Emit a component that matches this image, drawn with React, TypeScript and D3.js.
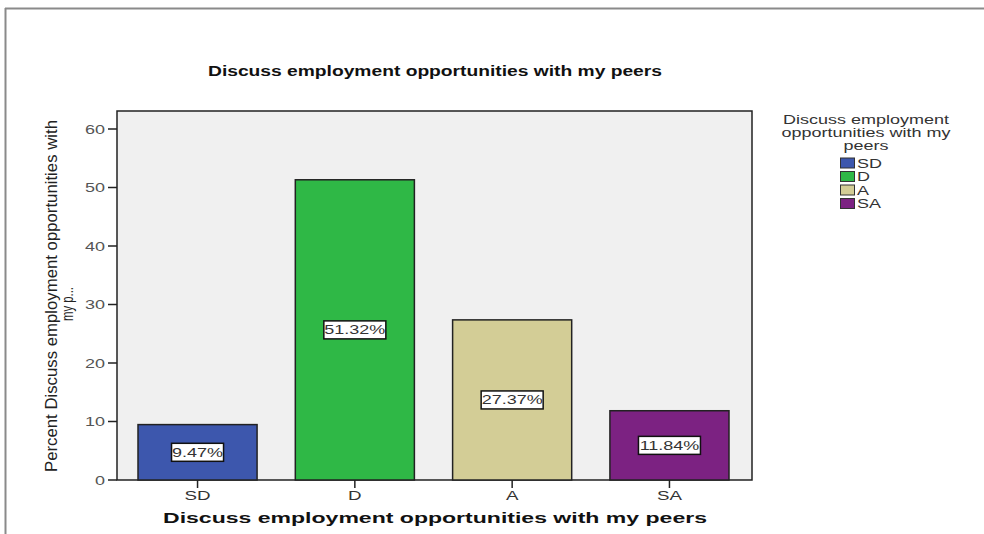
import React from "react";
import * as d3 from "d3";

const categories = ["SD", "D", "A", "SA"];
const percents = [9.47, 51.32, 27.37, 11.84];
const barColors = ["#3d57ad", "#2fb846", "#d3cd96", "#7c2282"];
const yTicks = [0, 10, 20, 30, 40, 50, 60];
const titleText = "Discuss employment opportunities with my peers";
const legendTitle = ["Discuss employment", "opportunities with my", "peers"];
const yTitle = ["Percent Discuss employment opportunities with", "my p..."];

const font = "Arial, 'Liberation Sans', sans-serif";

function SText(props: { x: number; y: number; sx?: number; anchor?: string; size: number; fill?: string; weight?: string; children: React.ReactNode }) {
  const { x, y, sx = 1.5, anchor = "start", size, fill = "#333", weight = "normal", children } = props;
  return (
    <g transform={`translate(${x},${y}) scale(${sx},1)`}>
      <text x={0} y={0} textAnchor={anchor as any} fontSize={size} fill={fill} fontWeight={weight}>{children}</text>
    </g>
  );
}

export default function App() {
  const W = 984, H = 534;
  const plot = { left: 117, right: 752, top: 111, bottom: 480 };
  const x = d3.scaleBand<string>().domain(categories).range([117, 750]).paddingInner(0.243).paddingOuter(0.1335);
  const y = d3.scaleLinear().domain([0, 60]).range([480, 129]);
  return (
    <svg width={W} height={H} style={{ position: "absolute", left: 0, top: 0, background: "#fff" }} fontFamily={font}>
      <rect x={0} y={0} width={W} height={H} fill="#fff" />
      <line x1={5} x2={W} y1={8.5} y2={8.5} stroke="#8a8a8a" strokeWidth={2} />
      <line x1={5.5} x2={5.5} y1={8} y2={H} stroke="#8a8a8a" strokeWidth={2} />
      <text x={435} y={76} textAnchor="middle" fontSize={14} fontWeight="bold" fill="#111" textLength={454} lengthAdjust="spacingAndGlyphs">{titleText}</text>
      <rect x={plot.left} y={plot.top} width={plot.right - plot.left} height={plot.bottom - plot.top} fill="#f0f0f0" stroke="#222" strokeWidth={1.5} />
      {yTicks.map((t) => (
        <g key={t}>
          <line x1={plot.left - 9} x2={plot.left} y1={y(t)} y2={y(t)} stroke="#222" strokeWidth={1.5} />
          <SText x={plot.left - 12} y={y(t) + 4.5} anchor="end" size={12} fill="#555">{t}</SText>
        </g>
      ))}
      {categories.map((c, i) => {
        const bx = x(c)!;
        const bw = x.bandwidth();
        const top = y(percents[i]);
        const mid = (top + y(0)) / 2;
        const label = percents[i].toFixed(2) + "%";
        const lw = label.length * 10 + 2;
        return (
          <g key={c}>
            <rect x={bx} y={top} width={bw} height={y(0) - top} fill={barColors[i]} stroke="#222" strokeWidth={1.5} />
            <rect x={bx + bw / 2 - lw / 2} y={mid - 9} width={lw} height={18} fill="#fff" stroke="#111" strokeWidth={1.5} />
            <SText x={bx + bw / 2} y={mid + 4.5} anchor="middle" size={12} fill="#333">{label}</SText>
            <line x1={bx + bw / 2} x2={bx + bw / 2} y1={plot.bottom} y2={plot.bottom + 8} stroke="#222" strokeWidth={1.5} />
            <SText x={bx + bw / 2} y={500} anchor="middle" size={12.5} fill="#333">{c}</SText>
          </g>
        );
      })}
      <text x={435} y={523} textAnchor="middle" fontSize={15} fontWeight="bold" fill="#111" textLength={544} lengthAdjust="spacingAndGlyphs">{titleText}</text>
      <g transform="translate(57,296) rotate(-90)">
        <text x={0} y={0} textAnchor="middle" fontSize={17} fill="#222" textLength={352} lengthAdjust="spacingAndGlyphs">{yTitle[0]}</text>
      </g>
      <g transform="translate(73,304) rotate(-90)">
        <text x={0} y={0} textAnchor="middle" fontSize={17} fill="#222" textLength={34} lengthAdjust="spacingAndGlyphs">{yTitle[1]}</text>
      </g>
      {legendTitle.map((t, i) => (
        <SText key={t} x={866} y={124 + i * 13} anchor="middle" size={12} fill="#333">{t}</SText>
      ))}
      {categories.map((c, i) => (
        <g key={"lg" + c}>
          <rect x={840.5} y={158 + i * 13.5} width={14} height={10} fill={barColors[i]} stroke="#333" strokeWidth={1} />
          <SText x={857} y={167.5 + i * 13.5} size={12} fill="#333">{c}</SText>
        </g>
      ))}
    </svg>
  );
}
